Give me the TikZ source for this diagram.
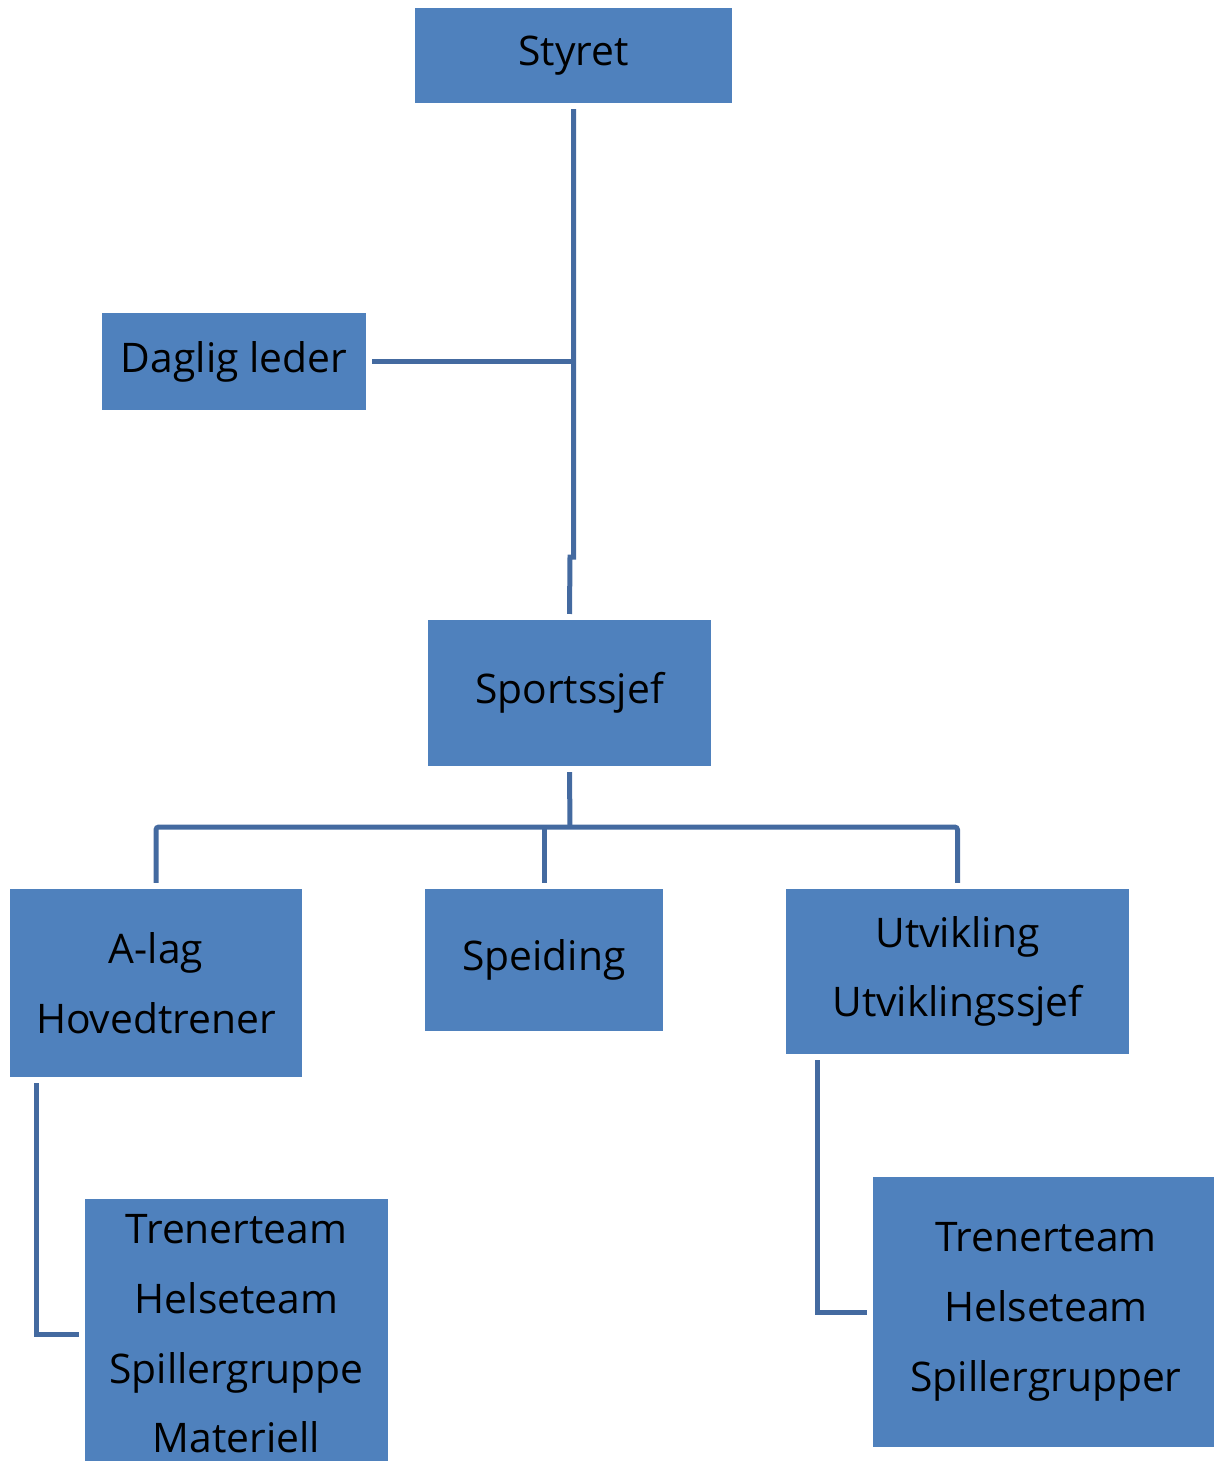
\documentclass[tikz,border=0pt]{standalone}
\usepackage{fontspec}
\setmainfont{Open Sans}
\usetikzlibrary{positioning}
\definecolor{boxblue}{RGB}{79,129,189}
\definecolor{lineblue}{RGB}{68,106,160}

\begin{document}
\begin{tikzpicture}[x=0.025cm,y=-0.025cm,
    unit/.style={fill=boxblue,inner sep=0pt,outer sep=0.15cm,align=center,
      font=\fontsize{29}{49.6}\selectfont},
    link/.style={draw=lineblue,line width=0.125cm}]
  \useasboundingbox (0,0) rectangle (1213,1461);
  % boxes
  \node[unit,minimum width=7.925cm,minimum height=2.375cm] (styret) at (573.5,55.5) {Styret};
  \node[unit,minimum width=6.6cm,minimum height=2.425cm] (daglig) at (234,361.5) {Daglig leder};
  \node[unit,minimum width=7.075cm,minimum height=3.65cm] (sport) at (569.5,693) {Sportssjef};
  \node[unit,minimum width=7.3cm,minimum height=4.7cm] (alag) at (156,983) {A-lag\\Hovedtrener};
  \node[unit,minimum width=5.95cm,minimum height=3.55cm] (speid) at (544,960) {Speiding};
  \node[unit,minimum width=8.575cm,minimum height=4.125cm] (utv) at (957.5,971.5) {Utvikling\\Utviklingssjef};
  \node[unit,minimum width=7.575cm,minimum height=6.75cm] (teamA) at (236.5,1334)
    {Trenerteam\\Helseteam\\Spillergruppe\\Materiell};
  \node[unit,minimum width=8.65cm,minimum height=6.75cm] (teamU) at (1046,1312)
    {Trenerteam\\Helseteam\\Spillergrupper};
  % helper points
  \coordinate (jog) at (570,557);
  \coordinate (bar) at (570,827);
  % lines
  \draw[link] (styret.south) -- (styret.south |- jog) -- (jog) -- (sport.north);
  \draw[link] (daglig.east) -- (daglig.east -| styret.south);
  \draw[link] (sport.south) -- (bar);
  \draw[link,rounded corners=2pt] (alag.north) |- (bar) -| (utv.north);
  \draw[link] (speid.north) -- (speid.north |- bar);
  \draw[link] ([xshift=33*0.025cm]alag.south west) |- (teamA.west);
  \draw[link] ([xshift=38*0.025cm]utv.south west) |- (teamU.west);
\end{tikzpicture}
\end{document}
